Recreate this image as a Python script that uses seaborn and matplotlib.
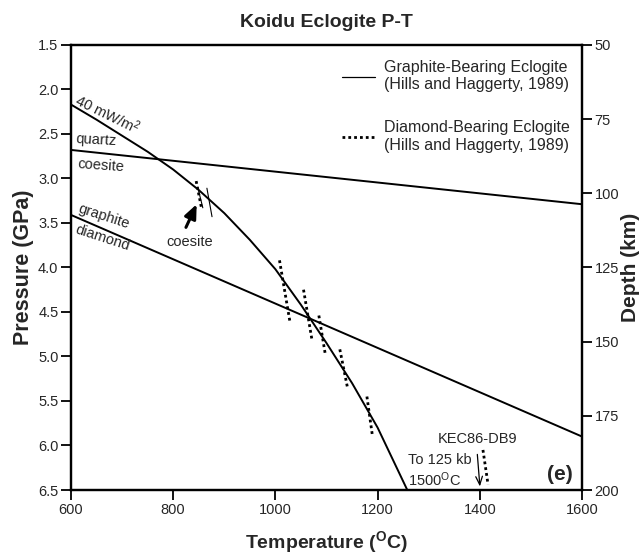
import numpy as np
import pandas as pd
import matplotlib
matplotlib.use("Agg")
import matplotlib.pyplot as plt
from matplotlib.lines import Line2D
from matplotlib.legend_handler import HandlerLine2D
import seaborn as sns

# 40 mW/m2 conductive geotherm
geotherm_T = [600, 650, 700, 750, 800, 850, 900, 950, 1000, 1050, 1100,
              1150, 1200, 1258]
geotherm_P = [2.17, 2.34, 2.52, 2.70, 2.90, 3.13, 3.39, 3.69, 4.02, 4.42,
              4.85, 5.30, 5.80, 6.50]

# phase boundaries
qtz_coe_T = [600, 1600]
qtz_coe_P = [2.68, 3.29]
gr_dia_T = [600, 1600]
gr_dia_P = [3.41, 5.90]

# diamond-bearing eclogite P-T estimates (segments)
dia_T0 = [845, 1008, 1055, 1085, 1126, 1179, 1406]
dia_T1 = [856, 1029, 1072, 1098, 1141, 1190, 1416]
dia_P0 = [3.03, 3.92, 4.25, 4.54, 4.92, 5.45, 6.05]
dia_P1 = [3.35, 4.63, 4.83, 4.99, 5.35, 5.90, 6.44]

# graphite-bearing eclogite P-T estimates (segments)
gra_T0 = [848, 866]
gra_T1 = [858, 876]
gra_P0 = [3.10, 3.11]
gra_P1 = [3.33, 3.43]

p_ticks = [1.5, 2.0, 2.5, 3.0, 3.5, 4.0, 4.5, 5.0, 5.5, 6.0, 6.5]
t_ticks = [600, 800, 1000, 1200, 1400, 1600]
depth_ticks = [50, 75, 100, 125, 150, 175, 200]

sns.set_theme(style="ticks")
plt.rcParams["font.family"] = ["Liberation Sans", "DejaVu Sans"]
plt.rcParams["mathtext.fontset"] = "custom"
plt.rcParams["mathtext.rm"] = "Liberation Sans"
plt.rcParams["mathtext.it"] = "Liberation Sans"
plt.rcParams["mathtext.bf"] = "Liberation Sans:bold"


def segments(t0, t1, p0, p1):
    rows = []
    for i, (a, b, c, d) in enumerate(zip(t0, t1, p0, p1)):
        rows.append({"T": a, "P": c, "seg": i})
        rows.append({"T": b, "P": d, "seg": i})
    return pd.DataFrame(rows)


fig = plt.figure(figsize=(6.39, 5.54), dpi=100)
ax = fig.add_axes([0.111, 0.1155, 0.8, 0.8035])

lw = 1.4
dotted = (0, (1.0, 1.1))
sns.lineplot(x=geotherm_T, y=geotherm_P, ax=ax, color="black", lw=lw,
             sort=False, estimator=None)
sns.lineplot(x=qtz_coe_T, y=qtz_coe_P, ax=ax, color="black", lw=lw,
             sort=False, estimator=None)
sns.lineplot(x=gr_dia_T, y=gr_dia_P, ax=ax, color="black", lw=lw,
             sort=False, estimator=None)

dia = segments(dia_T0, dia_T1, dia_P0, dia_P1)
sns.lineplot(data=dia, x="T", y="P", units="seg", estimator=None, sort=False,
             ax=ax, color="black", lw=2.0, linestyle=dotted)
gra = segments(gra_T0, gra_T1, gra_P0, gra_P1)
sns.lineplot(data=gra, x="T", y="P", units="seg", estimator=None, sort=False,
             ax=ax, color="black", lw=0.8)

fs = 10.5
ax.set_xlim(600, 1600)
ax.set_ylim(6.5, 1.5)
ax.set_xticks(t_ticks)
ax.set_yticks(p_ticks)
ax.set_yticklabels([f"{p:.1f}" for p in p_ticks])
ax.tick_params(axis="both", labelsize=fs, length=7, width=1.3, color="black",
               direction="out", pad=2)
for s in ax.spines.values():
    s.set_linewidth(1.6)
    s.set_color("black")
ax.set_xlabel(r"Temperature ($^{\mathbf{O}}$C)", fontsize=14, fontweight="bold",
              labelpad=9)
ax.set_ylabel("Pressure (GPa)", fontsize=15.5, fontweight="bold", labelpad=3)
ax.set_title("Koidu Eclogite P-T", fontsize=14, fontweight="bold", pad=13)

# depth axis
ax2 = ax.twinx()
ax2.set_ylim(200, 50)
ax2.set_yticks(depth_ticks)
ax2.tick_params(axis="y", labelsize=fs, length=7, width=1.3, color="black",
                direction="out", pad=2)
for s in ax2.spines.values():
    s.set_linewidth(1.6)
    s.set_color("black")
ax2.set_ylabel("Depth (km)", fontsize=15, fontweight="bold", labelpad=1)
ax2.grid(False)

# curve labels
ax.text(672, 2.28, r"40 mW/m$^{2}$", fontsize=fs, rotation=-26,
        ha="center", va="center", rotation_mode="anchor")
ax.text(650, 2.57, "quartz", fontsize=fs, rotation=-3,
        ha="center", va="center", rotation_mode="anchor")
ax.text(658, 2.86, "coesite", fontsize=fs, rotation=-4,
        ha="center", va="center", rotation_mode="anchor")
ax.text(664, 3.43, "graphite", fontsize=fs, rotation=-18,
        ha="center", va="center", rotation_mode="anchor")
ax.text(661, 3.67, "diamond", fontsize=fs, rotation=-18,
        ha="center", va="center", rotation_mode="anchor")

ax.text(833, 3.71, "coesite", fontsize=fs, ha="center", va="center")
ax.annotate("", xy=(846, 3.29), xytext=(825, 3.55),
            arrowprops=dict(arrowstyle="-|>,head_length=0.7,head_width=0.3",
                            color="black", lw=2.2, shrinkA=0, shrinkB=0))

ax.text(1318, 5.93, "KEC86-DB9", fontsize=fs, ha="left", va="center")
ax.text(1259, 6.16, "To 125 kb", fontsize=fs, ha="left", va="center")
ax.text(1259, 6.38, r"1500$^{\mathrm{O}}$C", fontsize=fs, ha="left", va="center")
ax.annotate("", xy=(1400, 6.46), xytext=(1395, 6.10),
            arrowprops=dict(arrowstyle="->,head_length=0.5,head_width=0.2",
                            color="black", lw=0.9, shrinkA=0, shrinkB=0))
ax.text(1557, 6.33, "(e)", fontsize=15, fontweight="bold",
        ha="center", va="center")

handles = [Line2D([], [], color="black", lw=0.9),
           Line2D([], [], color="black", lw=2.0, linestyle=dotted)]
labels = ["Graphite-Bearing Eclogite\n(Hills and Haggerty, 1989)",
          "Diamond-Bearing Eclogite\n(Hills and Haggerty, 1989)"]
ax.legend(handles, labels, loc="upper left", bbox_to_anchor=(0.53, 0.966),
          frameon=False, fontsize=11.5, handlelength=2.1, handletextpad=0.55,
          labelspacing=1.75, borderpad=0, borderaxespad=0,
          handler_map={Line2D: HandlerLine2D(ypad=1.2)})

fig.savefig("out.png", dpi=100)
